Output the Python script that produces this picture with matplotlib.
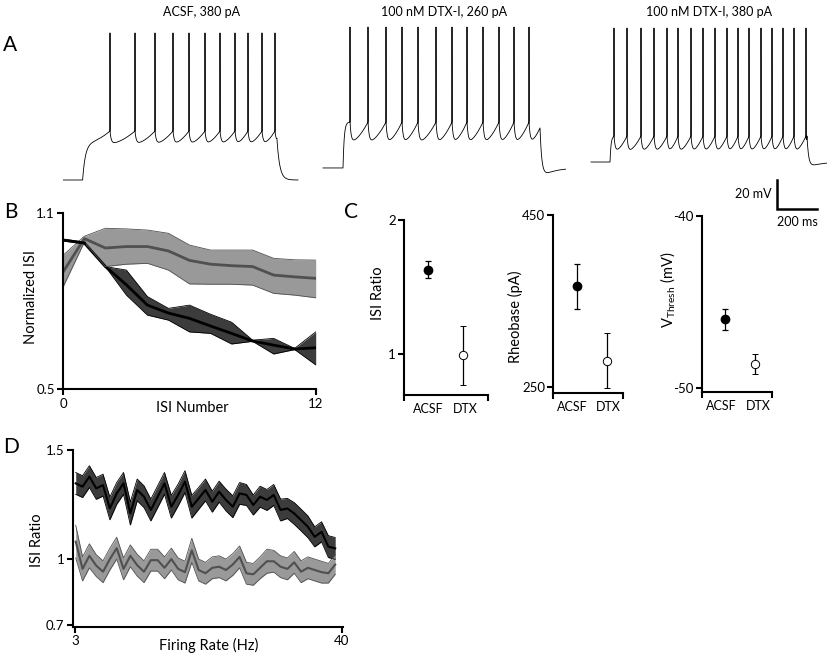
import numpy as np
import matplotlib
matplotlib.use("Agg")
import matplotlib.pyplot as plt

plt.rcParams['font.family'] = ['Lato', 'DejaVu Sans']
plt.rcParams['mathtext.fontset'] = 'custom'
plt.rcParams['mathtext.rm'] = 'Lato'
plt.rcParams['font.size'] = 9.5

# ---------------- data ----------------
# A: current-clamp traces (times in ms, voltages in mV)
titles_a = ["ACSF, 380 pA", "100 nM DTX-I, 260 pA", "100 nM DTX-I, 380 pA"]
spikes_acsf380 = [235, 360, 460, 550, 630, 710, 785, 860, 925, 995, 1060]
spikes_dtx260 = [250, 340, 430, 510, 590, 680, 760, 835, 915, 995, 1070, 1145]
spikes_dtx380 = [170, 235, 305, 370, 435, 490, 555, 615, 675, 735, 790, 845,
                 905, 960, 1015, 1070, 1130]
#            start end  rest   on   off   thr    trough peak  pre    v_end  tau_on tau_off under
params_a = [(0,   1175, -68.1, 98,  1070, -34.3, -43.0, 33.3, -42.5, -40.5, 14, 14, 0.0),
            (115, 1328, -59.8, 215, 1200, -28.1, -42.0, 37.4, -28.1, -32.2, 6, 9, 7.0),
            (55,  1235, -55.7, 150, 1135, -37.8, -48.5, 36.7, -37.8, -37.8, 5, 8, 4.0)]
spikes_a = [spikes_acsf380, spikes_dtx260, spikes_dtx380]
scale_ms, scale_mv = 200, 20

# B: normalized ISI vs ISI number
isi_num = np.arange(13)
acsf_isi = [1.007, 0.997, 0.917, 0.855, 0.786, 0.759, 0.741, 0.715, 0.69, 0.664, 0.65, 0.637, 0.641]
acsf_isi_hi = [1.007, 0.997, 0.917, 0.905, 0.815, 0.775, 0.786, 0.755, 0.728, 0.667, 0.673, 0.639, 0.695]
acsf_isi_lo = [1.007, 0.997, 0.917, 0.82, 0.752, 0.735, 0.695, 0.69, 0.654, 0.663, 0.62, 0.635, 0.583]
dtx_isi = [0.90, 1.012, 0.98, 0.985, 0.985, 0.97, 0.938, 0.925, 0.92, 0.917, 0.888, 0.882, 0.877]
dtx_isi_hi = [0.956, 1.02, 1.047, 1.045, 1.041, 1.03, 0.99, 0.973, 0.973, 0.973, 0.945, 0.94, 0.939]
dtx_isi_lo = [0.849, 1.0, 0.917, 0.925, 0.928, 0.905, 0.858, 0.857, 0.857, 0.854, 0.826, 0.82, 0.811]

# C: summary (mean, sem) ACSF vs DTX
groups = ["ACSF", "DTX"]
isi_ratio_mean, isi_ratio_sem = [1.63, 0.99], [0.065, 0.22]
rheobase_mean, rheobase_sem = [367, 280], [26, 32]
vthresh_mean, vthresh_sem = [-46.0, -48.6], [0.6, 0.6]

# D: ISI ratio vs firing rate
rate = np.linspace(3.1, 39.1, 39)
acsf_ratio = [1.347, 1.332, 1.378, 1.324, 1.339, 1.232, 1.301, 1.347, 1.209, 1.317,
              1.286, 1.225, 1.286, 1.347, 1.24, 1.294, 1.355, 1.24, 1.278, 1.317,
              1.263, 1.309, 1.271, 1.24, 1.301, 1.294, 1.248, 1.286, 1.271, 1.294,
              1.225, 1.232, 1.209, 1.179, 1.148, 1.102, 1.125, 1.057, 1.049]
acsf_ratio_sem = [0.05, 0.05, 0.05, 0.05, 0.05, 0.052, 0.05, 0.05, 0.053, 0.05,
                  0.05, 0.05, 0.05, 0.05, 0.052, 0.05, 0.05, 0.052, 0.05, 0.05,
                  0.048, 0.048, 0.05, 0.05, 0.05, 0.048, 0.046, 0.048, 0.048, 0.048,
                  0.05, 0.046, 0.05, 0.05, 0.05, 0.046, 0.046, 0.05, 0.05]
dtx_ratio = [1.08, 0.955, 1.015, 0.97, 0.942, 1.0, 1.05, 0.955, 1.015, 0.972,
             0.942, 0.995, 0.995, 0.96, 1.0, 0.955, 0.94, 1.04, 0.95, 0.935,
             0.96, 0.965, 0.95, 0.975, 1.01, 0.935, 0.93, 0.96, 0.99, 0.99,
             0.965, 0.955, 0.985, 0.942, 0.96, 0.95, 0.94, 0.935, 0.975]
dtx_ratio_sem = [0.075, 0.055, 0.055, 0.05, 0.05, 0.05, 0.05, 0.05, 0.05, 0.05,
                 0.05, 0.05, 0.05, 0.05, 0.05, 0.05, 0.05, 0.055, 0.05, 0.05,
                 0.05, 0.05, 0.05, 0.05, 0.05, 0.05, 0.05, 0.05, 0.055, 0.05,
                 0.05, 0.05, 0.05, 0.05, 0.05, 0.05, 0.05, 0.045, 0.045]

# ---------------- layout helpers ----------------
W, H = 827, 657
fig = plt.figure(figsize=(W / 100, H / 100), dpi=100)
def rect(l, t, r, b): return [l / W, 1 - b / H, (r - l) / W, (b - t) / H]
PX_MS, PX_MV = 0.2, 1.45           # pixels per ms / per mV in panel A
def v_at(y): return -75 + (190 - y) / PX_MV
SPW, TKW = 1.5, 1.5
FS_T, FS_TICK, FS_LAB = 9, 9.5, 10.5
GRAY_F, GRAY_L, DARK_F = "#999999", "#505050", "#3c3c3c"

def style(ax):
    for s in ("top", "right"): ax.spines[s].set_visible(False)
    for s in ("left", "bottom"): ax.spines[s].set_linewidth(SPW)
    ax.tick_params(direction="out", length=4, width=TKW, pad=2, labelsize=FS_TICK)

def make_trace(t0, t1, rest, on, off, thr, trough, peak, pre, v_end, tau_on, tau_off, under, spikes):
    t = np.arange(t0, t1, 0.2)
    v = np.full_like(t, rest, dtype=float)
    s0 = spikes[0]
    m = (t >= on) & (t < s0); dt = t[m] - on
    v[m] = rest + (pre - rest) * (1 - np.exp(-dt / tau_on)) + (thr - pre) * (dt / (s0 - on)) ** 2
    ends = list(spikes[1:]) + [off]
    ends_v = [thr] * (len(spikes) - 1) + [v_end]
    for s, e, ve in zip(spikes, ends, ends_v):
        m = (t >= s) & (t < e); dt = t[m] - s
        E = np.exp(-dt / 6.0)
        v[m] = trough + (thr - trough) * E + (ve - trough) * (dt / (e - s)) ** 1.7 * (1 - E)
    m = t >= off; dt = t[m] - off
    v[m] = rest + (v_end - rest) * np.exp(-dt / tau_off) - under * (np.exp(-dt / 60) - np.exp(-dt / tau_off))
    for s in spikes:
        v += (peak - thr) * np.exp(-((t - s) / 0.4) ** 2)
    return t, v

# ---------------- A ----------------
a_boxes = [(63, 20, 300, 190), (300, 20, 570, 190), (580, 20, 827, 225)]
title_x = [202, 444, 709]
for i, (box, p, sp) in enumerate(zip(a_boxes, params_a, spikes_a)):
    l, t, r, b = box
    ax = fig.add_axes(rect(*box))
    tt, vv = make_trace(*p, sp)
    ax.plot(tt, vv, color="k", lw=0.6, solid_joinstyle="round")
    ax.set_xlim(0, (r - l) / PX_MS); ax.set_ylim(v_at(b), v_at(t))
    ax.axis("off")
    fig.text(title_x[i] / W, 1 - 12 / H, titles_a[i], ha="center", va="center", fontsize=FS_T)
    if i == 2:
        x0 = (777 - l) / PX_MS; y0 = v_at(180)
        ax.plot([x0, x0, x0 + scale_ms], [y0, y0 - scale_mv, y0 - scale_mv], color="k", lw=1.8,
                solid_joinstyle="miter", clip_on=False)
        ax.text(x0 - 25, y0 - scale_mv / 2, "%d mV" % scale_mv, ha="right", va="center", fontsize=FS_T)
        ax.text(x0 + scale_ms / 2, y0 - scale_mv - 9, "%d ms" % scale_ms, ha="center", va="center", fontsize=FS_T)

# ---------------- B ----------------
ax = fig.add_axes(rect(63.3, 212.7, 315.7, 389.3))
style(ax)
ax.fill_between(isi_num, acsf_isi_lo, acsf_isi_hi, color=DARK_F, lw=0)
ax.plot(isi_num, acsf_isi_hi, color="k", lw=0.6); ax.plot(isi_num, acsf_isi_lo, color="k", lw=0.6)
ax.plot(isi_num, acsf_isi, color="k", lw=2)
ax.fill_between(isi_num, dtx_isi_lo, dtx_isi_hi, color=GRAY_F, lw=0)
ax.plot(isi_num, dtx_isi_hi, color=GRAY_L, lw=0.6); ax.plot(isi_num, dtx_isi_lo, color=GRAY_L, lw=0.6)
ax.plot(isi_num, dtx_isi, color=GRAY_L, lw=2)
ax.plot(isi_num[:2], acsf_isi[:2], color="k", lw=2)
ax.set_xlim(0, 12); ax.set_ylim(0.5, 1.1)
ax.set_xticks([0, 12]); ax.set_yticks([0.5, 1.1], ["0.5", "1.1"])
ax.set_xlabel("ISI Number", fontsize=FS_LAB); ax.xaxis.set_label_coords(0.51, -0.065)
ax.set_ylabel("Normalized ISI", fontsize=FS_LAB); ax.yaxis.set_label_coords(-0.10, 0.52)

# ---------------- C ----------------
c_specs = [((404.3, 220, 487.7, 395), isi_ratio_mean, isi_ratio_sem, (0.694, 2.0), [1, 2], ["1", "2"],
            (0.31, 2.71), [1.0, 2.06], "ISI Ratio", (-0.23, 0.583)),
           ((553.3, 215, 623, 393), rheobase_mean, rheobase_sem, (242.7, 450), [250, 450], ["250", "450"],
            (0.21, 2.54), [0.83, 2.06], "Rheobase (pA)", (-0.44, 0.43)),
           ((701.7, 216, 771.7, 391.7), vthresh_mean, vthresh_sem, (-50.2, -40), [-50, -40], ["-50", "-40"],
            (0.22, 2.56), [0.89, 2.1], r"V$_{\mathrm{Thresh}}$ (mV)", (-0.34, 0.58))]
for box, mu, se, yl, yt, ytl, xl, labx, lab, lxy in c_specs:
    ax = fig.add_axes(rect(*box))
    style(ax)
    ax.errorbar([1], [mu[0]], yerr=[se[0]], fmt="o", color="k", mfc="k", mec="k", ms=6,
                elinewidth=0.9, capsize=2.2, capthick=0.9, clip_on=False)
    ax.errorbar([2], [mu[1]], yerr=[se[1]], fmt="o", color="k", mfc="w", mec="k", mew=0.7, ms=6,
                elinewidth=0.9, capsize=2.2, capthick=0.9, clip_on=False)
    ax.set_xlim(*xl); ax.set_ylim(*yl)
    ax.set_yticks(yt, ytl)
    ax.set_xticks(labx, groups)
    ax.set_xticks(list(xl), minor=True)
    ax.tick_params(axis="x", which="major", length=0, pad=6, labelsize=9)
    ax.tick_params(axis="x", which="minor", length=4, width=TKW, direction="out")
    ax.set_ylabel(lab, fontsize=FS_LAB); ax.yaxis.set_label_coords(*lxy)

# ---------------- D ----------------
ax = fig.add_axes(rect(72.7, 450, 342.7, 626.7))
style(ax)
a_m, a_s = np.array(acsf_ratio), np.array(acsf_ratio_sem)
d_m, d_s = np.array(dtx_ratio), np.array(dtx_ratio_sem)
ax.fill_between(rate, a_m - a_s, a_m + a_s, color=DARK_F, lw=0)
ax.plot(rate, a_m + a_s, color="k", lw=0.6); ax.plot(rate, a_m - a_s, color="k", lw=0.6)
ax.plot(rate, a_m, color="k", lw=1.5)
ax.fill_between(rate, d_m - d_s, d_m + d_s, color=GRAY_F, lw=0)
ax.plot(rate, d_m + d_s, color=GRAY_L, lw=0.6); ax.plot(rate, d_m - d_s, color=GRAY_L, lw=0.6)
ax.plot(rate, d_m, color=GRAY_L, lw=1.5)
ax.set_xlim(2.68, 40.14); ax.set_ylim(0.69, 1.5)
ax.set_xticks([3, 40]); ax.set_yticks([0.7, 1, 1.5], ["0.7", "1", "1.5"])
ax.set_xlabel("Firing Rate (Hz)", fontsize=FS_LAB); ax.xaxis.set_label_coords(0.505, -0.065)
ax.set_ylabel("ISI Ratio", fontsize=FS_LAB); ax.yaxis.set_label_coords(-0.106, 0.49)

# panel letters
for letter, (x, y) in zip("ABCD", [(3, 45), (4, 212), (344, 212), (3, 447)]):
    fig.text(x / W, 1 - y / H, letter, ha="left", va="center", fontsize=15)

fig.savefig("out.png", dpi=100)
